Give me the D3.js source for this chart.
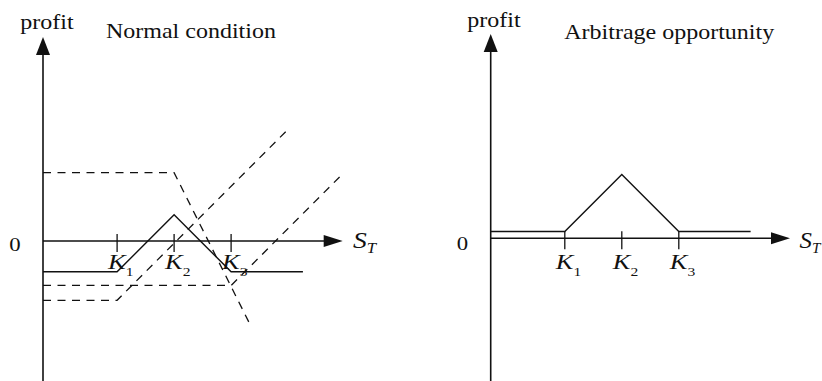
<!DOCTYPE html>
<html>
<head>
<meta charset="utf-8">
<script src="https://cdn.jsdelivr.net/npm/d3@7"></script>
<style>
  html, body { margin: 0; padding: 0; background: #fff; }
  svg text { font-family: "Liberation Serif", "Times New Roman", serif; fill: #111; }
</style>
</head>
<body>
<svg id="canvas"></svg>
<script>
// payoff values at expiry, in price units (S axis starts at 0 on the profit axis)
const strikes = [13, 23, 33];
const strikeSubs = ["1", "2", "3"];
const spreadS = [0, 13, 23, 33, 45.6];
const normalProfit = [-5.4, -5.4, 4.6, -5.4, -5.4];
const arbitrageProfit = [1.2, 1.2, 11.2, 1.2, 1.2];
const longK1S = [0, 13, 42.8];
const longK1Profit = [-10.4, -10.4, 19.4];
const longK3S = [0, 33, 52.6];
const longK3Profit = [-7.8, -7.8, 11.8];
const shortK2S = [0, 23, 36.3];
const shortK2Profit = [12, 12, -14.6];
const titles = ["Normal condition", "Arbitrage opportunity"];

const width = 822;
const height = 381;
const unitPx = 5.7;
const stretch = 1.2; // the original figure is slightly wider than tall

const svg = d3.select("#canvas")
    .attr("width", width)
    .attr("height", height);

const panels = [
    {
        originX: 43, originY: 241, axisEnd: 342.7, arrowTop: 37,
        title: titles[0], titleX: 106, titleY: 38,
        profitX: 47, profitY: 29,
        zeroX: 15, zeroY: 250.5, labelDy: 27.5,
        sx: 353, sy: 248, sStretch: stretch,
        solid: normalProfit,
        dashed: [
            [longK1S, longK1Profit],
            [longK3S, longK3Profit],
            [shortK2S, shortK2Profit]
        ]
    },
    {
        originX: 490.7, originY: 238.3, axisEnd: 790, arrowTop: 34,
        title: titles[1], titleX: 564.3, titleY: 39,
        profitX: 494, profitY: 26.5,
        zeroX: 462.5, zeroY: 249.5, labelDy: 31,
        sx: 799.5, sy: 248, sStretch: 1.08,
        solid: arbitrageProfit,
        dashed: []
    }
];

function stretchedText(g, x, y, size, anchor, sx) {
    return g.append("text")
        .attr("transform", `translate(${x}, ${y}) scale(${sx || stretch}, 1)`)
        .attr("font-size", size)
        .attr("text-anchor", anchor || "start");
}

panels.forEach(p => {
    const g = svg.append("g");
    const scaleX = d3.scaleLinear().domain([0, 10]).range([p.originX, p.originX + 10 * unitPx]);
    const scaleY = d3.scaleLinear().domain([0, 10]).range([p.originY, p.originY - 10 * unitPx]);
    const line = d3.line().x(d => scaleX(d[0])).y(d => scaleY(d[1]));

    // axes
    g.append("line")
        .attr("x1", p.originX).attr("x2", p.originX)
        .attr("y1", height).attr("y2", p.arrowTop + 10)
        .attr("stroke", "#111").attr("stroke-width", 1.6);
    g.append("path")
        .attr("d", `M${p.originX},${p.arrowTop}L${p.originX - 7},${p.arrowTop + 18}L${p.originX + 7},${p.arrowTop + 18}Z`)
        .attr("fill", "#111");
    g.append("line")
        .attr("x1", p.originX).attr("x2", p.axisEnd - 10)
        .attr("y1", p.originY).attr("y2", p.originY)
        .attr("stroke", "#111").attr("stroke-width", 1.5);
    g.append("path")
        .attr("d", `M${p.axisEnd},${p.originY}L${p.axisEnd - 19},${p.originY - 6}L${p.axisEnd - 19},${p.originY + 6}Z`)
        .attr("fill", "#111");

    // strike ticks and labels
    strikes.forEach((k, i) => {
        const x = scaleX(k);
        g.append("line")
            .attr("x1", x).attr("x2", x)
            .attr("y1", p.originY - 7).attr("y2", p.originY + 11)
            .attr("stroke", "#111").attr("stroke-width", 1.3);
        const t = stretchedText(g, x - 9, p.originY + p.labelDy, 22);
        t.append("tspan").attr("font-style", "italic").text("K");
        t.append("tspan").attr("font-size", 13).attr("dy", 7).text(strikeSubs[i]);
    });

    // payoff lines
    p.dashed.forEach(([s, v]) => {
        g.append("path")
            .attr("d", line(d3.zip(s, v)))
            .attr("fill", "none")
            .attr("stroke", "#111")
            .attr("stroke-width", 1.3)
            .attr("stroke-dasharray", "8,6.5");
    });
    g.append("path")
        .attr("d", line(d3.zip(spreadS, p.solid)))
        .attr("fill", "none")
        .attr("stroke", "#111")
        .attr("stroke-width", 1.4);

    // text
    stretchedText(g, p.profitX, p.profitY, 20, "middle").text("profit");
    stretchedText(g, p.titleX, p.titleY, 20).text(p.title);
    stretchedText(g, p.zeroX, p.zeroY, 19, "middle").text("0");
    const st = stretchedText(g, p.sx, p.sy, 23, "start", p.sStretch).attr("font-style", "italic");
    st.append("tspan").text("S");
    st.append("tspan").attr("font-size", 14).attr("dy", 5).text("T");
});
</script>
</body>
</html>
